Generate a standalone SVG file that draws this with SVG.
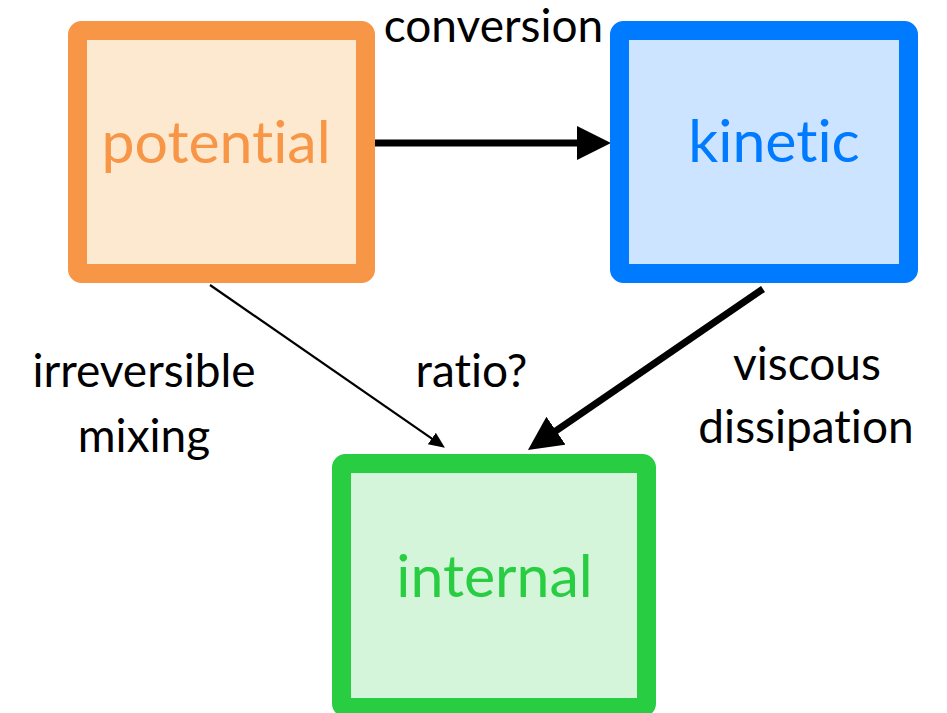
<svg xmlns="http://www.w3.org/2000/svg" width="947" height="713" viewBox="0 0 947 713">
  <style>
    .box { stroke-width: 19; }
    .title { font-family: Lato, "Noto Sans", sans-serif; font-size: 59px; font-weight: 400; text-anchor: middle; font-variant-ligatures: none; }
    .label { font-family: Lato, "Noto Sans", sans-serif; font-size: 46px; fill: #000; text-anchor: middle; font-variant-ligatures: none; }
    .thick { stroke: #000; stroke-width: 7; fill: none; }
    .thin { stroke: #000; stroke-width: 2.2; fill: none; }
  </style>
  <defs>
    <marker id="headBig" markerUnits="userSpaceOnUse" markerWidth="36" markerHeight="36" refX="13" refY="17" orient="auto">
      <path d="M0,0 L34,17 L0,34 z" fill="#000"/>
    </marker>
    <marker id="headSmall" markerUnits="userSpaceOnUse" markerWidth="18" markerHeight="16" refX="8" refY="7" orient="auto">
      <path d="M0,0 L16,7 L0,14 z" fill="#000"/>
    </marker>
  </defs>
  <rect width="947" height="713" fill="#fff"/>

  <g id="connectors">
    <line class="thick" x1="375" y1="143" x2="590" y2="143" marker-end="url(#headBig)"/>
    <line class="thick" x1="763" y1="289" x2="545.3" y2="438.1" marker-end="url(#headBig)"/>
    <line class="thin" x1="210" y1="285" x2="438.4" y2="443.1" marker-end="url(#headSmall)"/>
  </g>

  <g id="potential">
    <rect class="box" x="77.5" y="30.5" width="288" height="243" rx="4" fill="#FDE9D0" stroke="#F79646"/>
    <text class="title" x="216" y="163" fill="#F79646">potential</text>
  </g>

  <g id="kinetic">
    <rect class="box" x="619.5" y="30.5" width="289" height="243" rx="4" fill="#CCE4FF" stroke="#007AFF"/>
    <text class="title" x="774" y="162" fill="#007AFF">kinetic</text>
  </g>

  <g id="internal">
    <rect class="box" x="341.5" y="463.5" width="305" height="244" rx="4" fill="#D5F5DA" stroke="#28CD41"/>
    <text class="title" x="494.5" y="597" fill="#28CD41">internal</text>
  </g>

  <g id="labels">
    <text class="label" x="493.5" y="42">conversion</text>
    <text class="label" x="144" y="387">irreversible</text>
    <text class="label" x="144" y="452">mixing</text>
    <text class="label" x="471.5" y="387">ratio?</text>
    <text class="label" x="807" y="380">viscous</text>
    <text class="label" x="806" y="443">dissipation</text>
  </g>
</svg>
